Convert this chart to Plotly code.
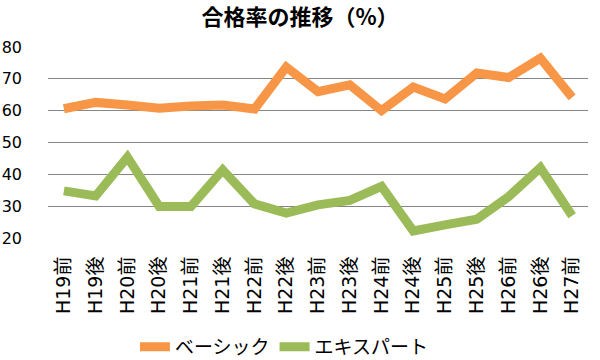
import plotly.graph_objects as go

categories = ["H19前", "H19後", "H20前", "H20後", "H21前", "H21後", "H22前", "H22後", "H23前",
              "H23後", "H24前", "H24後", "H25前", "H25後", "H26前", "H26後", "H27前"]
basic = [60.6, 62.6, 61.8, 60.8, 61.5, 61.8, 60.5, 73.7, 66.0, 68.1, 60.0, 67.4, 63.7, 71.8, 70.4, 76.5, 64.2]
expert = [34.8, 33.2, 45.4, 29.9, 29.9, 41.4, 30.7, 27.8, 30.4, 31.8, 36.2, 22.2, 24.1, 25.9, 33.0, 42.1, 27.0]
y_ticks = [20, 30, 40, 50, 60, 70, 80]

FONT = "Noto Sans CJK JP"
TICKFONT = "DejaVu Sans, Noto Sans CJK JP"

fig = go.Figure()
fig.add_trace(go.Scatter(x=categories, y=basic, mode="lines", name="ベーシック",
                         line=dict(color="#F79646", width=9), cliponaxis=False))
fig.add_trace(go.Scatter(x=categories, y=expert, mode="lines", name="エキスパート",
                         line=dict(color="#9BBB59", width=9), cliponaxis=False))

fig.update_layout(
    width=600, height=360,
    margin=dict(l=48, r=12, t=47, b=122, autoexpand=False),
    paper_bgcolor="white", plot_bgcolor="white",
    font=dict(family=FONT, color="black", size=17),
    title=dict(text="<b>合格率の推移（%）</b>", x=0.5, xanchor="center", y=0.951, yanchor="middle",
               font=dict(family=FONT, size=22, color="black")),
    showlegend=True,
    legend=dict(orientation="h", x=0.161, xanchor="left", y=-0.57, yanchor="middle",
                font=dict(family=FONT, size=19), itemwidth=30, tracegroupgap=0),
    xaxis=dict(type="category", range=[-0.5, len(categories) - 0.5], tickangle=-90,
               showgrid=False, zeroline=False, showline=False,
               ticks="outside", ticklen=10, tickcolor="rgba(0,0,0,0)", automargin=False,
               tickfont=dict(family=TICKFONT, size=19)),
    yaxis=dict(range=[20, 80], tickvals=y_ticks, showgrid=True, gridcolor="#868686", gridwidth=1,
               zeroline=False, showline=False, ticks="", ticklabelstandoff=25, automargin=False,
               tickfont=dict(family=TICKFONT, size=16)),
)

fig.write_html("out.html", config={"responsive": False, "displayModeBar": False},
               post_script="document.body.style.margin='0';")
